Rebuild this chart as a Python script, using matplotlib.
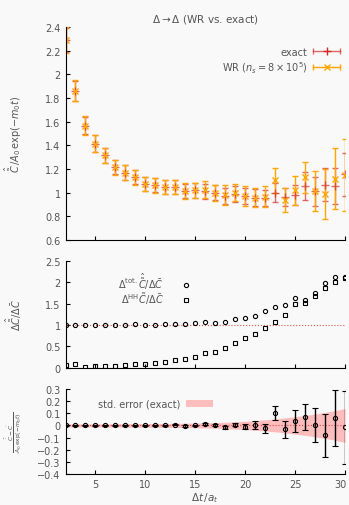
import numpy as np
import matplotlib
matplotlib.use("Agg")
import matplotlib.pyplot as plt
import matplotlib.transforms as mtransforms
from matplotlib.ticker import FuncFormatter
from matplotlib.lines import Line2D
from matplotlib.legend_handler import HandlerBase

t = np.arange(2, 31)

# top panel: C / (A0 exp(-m0 t))
exact_val = [2.29, 1.86, 1.567, 1.415, 1.315, 1.216, 1.17, 1.13, 1.075, 1.062,
             1.048, 1.048, 1.014, 1.02, 1.01, 1.0, 0.97, 0.99, 0.972, 0.958,
             0.955, 1.0, 0.966, 0.977, 1.056, 1.01, 1.067, 1.056, 1.155]
exact_err = [0.1, 0.085, 0.075, 0.07, 0.065, 0.062, 0.062, 0.06, 0.058, 0.06,
             0.06, 0.06, 0.062, 0.063, 0.063, 0.065, 0.066, 0.066, 0.068, 0.07,
             0.07, 0.08, 0.075, 0.085, 0.115, 0.12, 0.14, 0.15, 0.18]
wr_val = [2.29, 1.86, 1.567, 1.415, 1.315, 1.216, 1.17, 1.13, 1.075, 1.062,
          1.048, 1.048, 1.014, 1.02, 1.025, 1.0, 0.98, 1.0, 0.972, 0.958,
          0.966, 1.104, 0.938, 1.02, 1.132, 1.014, 0.99, 1.118, 1.146]
wr_err = [0.11, 0.088, 0.078, 0.07, 0.066, 0.063, 0.063, 0.061, 0.058, 0.061,
          0.061, 0.062, 0.064, 0.065, 0.072, 0.069, 0.083, 0.072, 0.083, 0.079,
          0.089, 0.105, 0.103, 0.12, 0.131, 0.165, 0.212, 0.26, 0.305]

# middle panel: error ratios
ratio_tot = [1.0, 1.0, 1.0, 1.0, 1.0, 1.0, 1.0, 1.01, 1.0, 1.0,
             1.01, 1.01, 1.01, 1.037, 1.068, 1.045, 1.076, 1.13, 1.153, 1.208,
             1.317, 1.418, 1.457, 1.628, 1.59, 1.737, 1.979, 2.11, 2.11]
ratio_hh = [0.07, 0.086, 0.008, 0.032, 0.04, 0.047, 0.063, 0.078, 0.078, 0.1,
            0.133, 0.18, 0.203, 0.258, 0.336, 0.374, 0.46, 0.57, 0.686, 0.787,
            0.927, 1.075, 1.23, 1.48, 1.52, 1.683, 1.87, 2.01, 2.1]

# bottom panel: normalised difference WR - exact
diff_val = [0.0, 0.0, 0.0, 0.0, 0.0, 0.0, 0.0, 0.0, 0.0, 0.0,
            0.0, 0.005, -0.005, 0.0, 0.014, 0.0, -0.017, 0.006, -0.011, 0.0,
            -0.025, 0.103, -0.033, 0.036, 0.072, 0.0, -0.081, 0.064, -0.017]
diff_err = [0.003, 0.003, 0.003, 0.003, 0.003, 0.003, 0.003, 0.004, 0.004, 0.004,
            0.004, 0.005, 0.005, 0.006, 0.007, 0.008, 0.01, 0.013, 0.022, 0.033,
            0.038, 0.058, 0.068, 0.09, 0.108, 0.14, 0.178, 0.23, 0.3]
band_err = [0.012, 0.012, 0.012, 0.013, 0.013, 0.014, 0.014, 0.015, 0.015, 0.016,
            0.016, 0.017, 0.018, 0.019, 0.021, 0.023, 0.026, 0.03, 0.034, 0.04,
            0.046, 0.053, 0.062, 0.072, 0.082, 0.094, 0.107, 0.122, 0.14]

top_ticks = [0.6, 0.8, 1.0, 1.2, 1.4, 1.6, 1.8, 2.0, 2.2, 2.4]
mid_ticks = [0, 0.5, 1, 1.5, 2, 2.5]
bot_ticks = [-0.4, -0.3, -0.2, -0.1, 0, 0.1, 0.2, 0.3]

bg = "#f9f9f9"
txt = "#555555"
red = "#d42a2a"
orange = "#ffa500"


class HBarHandler(HandlerBase):
    # horizontal errorbar-like legend key: line with end caps and marker
    def __init__(self, color, marker, ms, alpha=1.0):
        super().__init__()
        self.color, self.marker, self.ms, self.alpha = color, marker, ms, alpha

    def create_artists(self, legend, orig_handle, xdescent, ydescent,
                       width, height, fontsize, trans):
        y = height / 2 - ydescent
        x0, x1 = -xdescent, width - xdescent
        line = Line2D([x0, x1], [y, y], color=self.color, lw=1.0, alpha=self.alpha)
        caps = Line2D([x0, x1], [y, y], ls="none", marker="|", ms=4,
                      mew=1.0, color=self.color, alpha=self.alpha)
        mk = Line2D([(x0 + x1) / 2], [y], ls="none", marker=self.marker,
                    ms=self.ms, mew=1.0, color=self.color)
        for a in (line, caps, mk):
            a.set_transform(trans)
        return [line, caps, mk]


plt.rcParams["font.family"] = ["DejaVu Sans"]
plt.rcParams["font.size"] = 7
plt.rcParams["text.color"] = txt
plt.rcParams["axes.labelcolor"] = txt
plt.rcParams["xtick.labelcolor"] = txt
plt.rcParams["ytick.labelcolor"] = txt

fig = plt.figure(figsize=(3.49, 5.06), dpi=100, facecolor=bg)
ax1 = fig.add_axes([0.1877, 0.5237, 0.801, 0.421])
ax2 = fig.add_axes([0.1877, 0.2713, 0.801, 0.2115])
ax3 = fig.add_axes([0.1877, 0.0613, 0.801, 0.168])

fmt = FuncFormatter(lambda v, p: ("%g" % round(v, 6)).replace("-", "\u2212"))
for ax in (ax1, ax2, ax3):
    ax.set_facecolor(bg)
    ax.spines["top"].set_visible(False)
    ax.spines["right"].set_visible(False)
    ax.tick_params(direction="in", length=3, width=0.8, labelsize=7)
    ax.set_xlim(2, 30)
    ax.set_xticks([5, 10, 15, 20, 25, 30])
    ax.yaxis.set_major_formatter(fmt)

# top
eb1 = ax1.errorbar(t, exact_val, yerr=exact_err, fmt="+", color=red, alpha=0.7,
                   ms=6, mew=1.0, elinewidth=1.0, capsize=2.5, label="exact")
eb2 = ax1.errorbar(t, wr_val, yerr=wr_err, fmt="x", color=orange,
                   ms=5, mew=1.0, elinewidth=1.0, capsize=2.5,
                   label=r"WR ($n_s = 8\times10^5$)")
ax1.set_ylim(0.6, 2.4)
ax1.set_yticks(top_ticks)
ax1.set_xticklabels([])
ax1.set_ylabel(r"$\hat{\tilde{C}}\,/A_0\,\exp(-m_0 t)$", fontsize=7)
ax1.set_title(r"$\Delta \rightarrow \Delta$ (WR vs. exact)", fontsize=7.5, pad=4)
ax1.legend([eb1, eb2], ["exact", r"WR ($n_s = 8\times10^5$)"],
           handler_map={eb1: HBarHandler(red, "+", 6, 0.7),
                        eb2: HBarHandler(orange, "x", 5)},
           loc="upper right", bbox_to_anchor=(1.0, 0.93), frameon=False,
           markerfirst=False, fontsize=7, handlelength=2.8,
           borderpad=0, labelspacing=0.25, handletextpad=0.6)

# middle
ax2.axhline(1.0, color=red, ls=":", lw=0.8, alpha=0.8)
ax2.plot(t, ratio_tot, "o", mfc="none", mec="black", ms=3, mew=0.8,
         label=r"$\Delta^{\mathrm{tot.}}\hat{\tilde{C}}/\Delta\bar{C}$")
ax2.plot(t, ratio_hh, "s", mfc="none", mec="black", ms=3, mew=0.8,
         label=r"$\Delta^{\mathrm{HH}}\tilde{C}/\Delta\bar{C}$")
ax2.set_ylim(0, 2.5)
ax2.set_yticks(mid_ticks)
ax2.set_xticklabels([])
ax2.set_ylabel(r"$\Delta\hat{\tilde{C}}/\Delta\bar{C}$", fontsize=7)
ax2.legend(loc="upper left", bbox_to_anchor=(0.17, 0.95), frameon=False,
           markerfirst=False, fontsize=7, handlelength=3.5,
           borderpad=0, labelspacing=-0.1, handletextpad=0.6)

# bottom
lo = [-e for e in band_err]
hi = [e for e in band_err]
ax3.fill_between(t, lo, hi, color="#ffb3b3", alpha=0.85, lw=0,
                 label="std. error (exact)")
ax3.axhline(0.0, color=red, ls=":", lw=0.8, alpha=0.8)
ax3.errorbar(t, diff_val, yerr=diff_err, fmt="o", mfc="none", mec="black",
             ecolor="black", ms=3, mew=0.8, elinewidth=1.0, capsize=2.0)
ax3.set_ylim(-0.4, 0.3)
ax3.set_yticks(bot_ticks)
ax3.set_xlabel(r"$\Delta t\,/a_t$", fontsize=7.5, labelpad=1)
ax3.set_ylabel(r"$\frac{\hat{\tilde{C}}-\tilde{C}}{A_0\,\exp(-m_0 t)}$", fontsize=6)
handles, labels = ax3.get_legend_handles_labels()
ax3.legend(handles[:1], labels[:1], loc="upper left", bbox_to_anchor=(0.1, 0.94),
           frameon=False, markerfirst=False, fontsize=7, handlelength=2.8,
           borderpad=0, handletextpad=0.5)

# keep the last x tick label inside the canvas
last = ax3.get_xticklabels()[-1]
last.set_transform(last.get_transform() +
                   mtransforms.ScaledTranslation(-3 / 72, 0, fig.dpi_scale_trans))

for ax in (ax1, ax2, ax3):
    ax.yaxis.set_label_coords(-0.15, 0.5)

fig.savefig("out.png", dpi=100, facecolor=bg)
